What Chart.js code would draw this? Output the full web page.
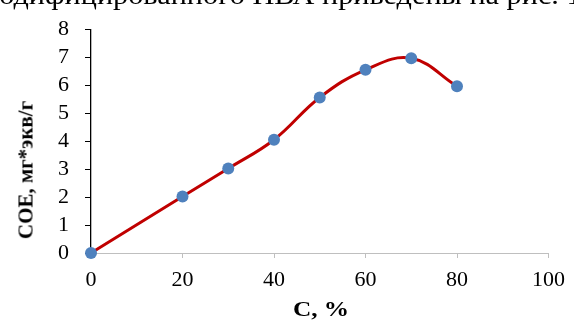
<!DOCTYPE html>
<html>
<head>
<meta charset="utf-8">
<script src="https://cdn.jsdelivr.net/npm/chart.js@4/dist/chart.umd.min.js"></script>
<style>
  html, body { margin: 0; padding: 0; background: #fff; }
  #wrap { position: relative; width: 574px; height: 320px; overflow: hidden; }
  canvas { position: absolute; left: 0; top: 0; }
  #topText { position: absolute; left: -20px; top: -19px; white-space: nowrap; line-height: 1;
    transform-origin: 0 0; transform: scaleX(1.08);
    font-family: "Liberation Serif", serif; font-size: 28px; color: #000; }
  #yTitle { position: absolute; left: 26px; top: 170px; transform: translate(-50%, -50%) rotate(-90deg);
    white-space: nowrap; font-family: "Liberation Serif", serif; font-weight: bold; font-size: 21px; color: #000; }
  #xTitle { position: absolute; left: 321px; top: 309px; transform: translate(-50%, -50%) scaleX(1.15);
    white-space: nowrap; font-family: "Liberation Serif", serif; font-weight: bold; font-size: 22px; color: #000; }
</style>
</head>
<body>
<div id="wrap">
  <canvas id="c" width="574" height="320"></canvas>
  <div id="topText">модифицированного ПВА приведены на рис. 1</div>
  <div id="yTitle">СОЕ, мг*экв/г</div>
  <div id="xTitle">С, %</div>
</div>
<script>
const concentration = [0, 20, 30, 40, 50, 60, 70, 80];
const soeValues = [0, 2.02, 3.02, 4.05, 5.56, 6.55, 6.96, 5.96];
const xTickValues = [0, 20, 40, 60, 80, 100];
const yTickValues = [0, 1, 2, 3, 4, 5, 6, 7, 8];

const points = concentration.map((c, i) => ({ x: c, y: soeValues[i] }));

new Chart(document.getElementById('c'), {
  type: 'line',
  data: {
    datasets: [{
      data: points,
      borderColor: '#C00000',
      borderWidth: 3,
      tension: 0.4,
      clip: false,
      pointRadius: 6,
      pointBackgroundColor: '#4F81BD',
      pointBorderColor: '#4F81BD',
      pointBorderWidth: 0,
      fill: false
    }]
  },
  options: {
    responsive: false,
    animation: false,
    devicePixelRatio: 1,
    layout: { padding: { top: 20, right: 22, bottom: 0, left: 0 } },
    plugins: { legend: { display: false }, tooltip: { enabled: false } },
    scales: {
      x: {
        type: 'linear',
        min: 0, max: 100,
        afterFit: s => { s.height = 67; },
        afterBuildTicks: s => { s.ticks = xTickValues.map(v => ({ value: v })); },
        border: { display: true, color: '#BFBFBF', width: 1 },
        grid: { display: true, drawOnChartArea: false, drawTicks: true, tickLength: 5, color: '#BFBFBF' },
        ticks: { color: '#000', padding: 9, autoSkip: false, maxRotation: 0, font: { family: 'Liberation Serif', size: 22 } }
      },
      y: {
        type: 'linear',
        min: 0, max: 8,
        afterFit: s => { s.width = 91; },
        afterBuildTicks: s => { s.ticks = yTickValues.map(v => ({ value: v })); },
        border: { display: true, color: '#000', width: 1.3 },
        grid: { display: true, drawOnChartArea: false, drawTicks: true, tickLength: 6, color: '#000' },
        ticks: { color: '#000', padding: 16, autoSkip: false, font: { family: 'Liberation Serif', size: 22 } }
      }
    }
  }
});
</script>
</body>
</html>
